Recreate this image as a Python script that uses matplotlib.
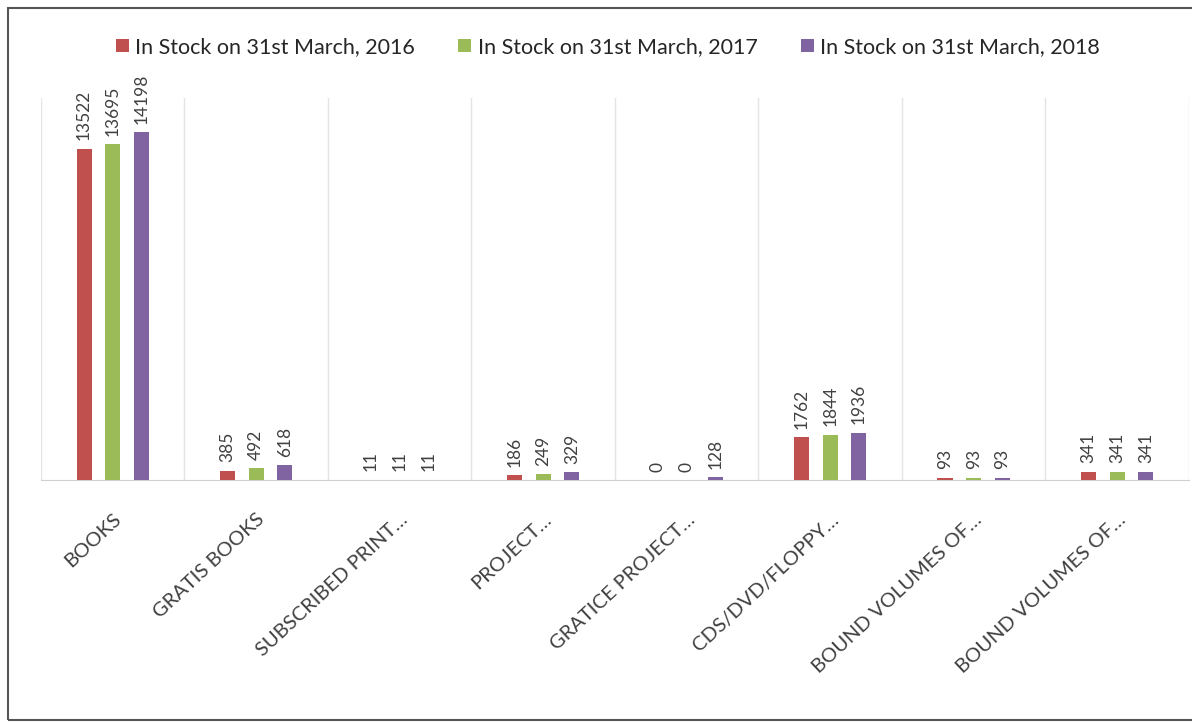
import numpy as np
import matplotlib
matplotlib.use("Agg")
import matplotlib.pyplot as plt
from matplotlib.patches import Rectangle

plt.rcParams["font.family"] = ["Lato", "DejaVu Sans"]

# Data
categories = [
    "BOOKS",
    "GRATIS BOOKS",
    "SUBSCRIBED PRINT…",
    "PROJECT…",
    "GRATICE PROJECT…",
    "CDS/DVD/FLOPPY…",
    "BOUND VOLUMES OF…",
    "BOUND VOLUMES OF…",
]
stock_2016 = [13522, 385, 11, 186, 0, 1762, 93, 341]
stock_2017 = [13695, 492, 11, 249, 0, 1844, 93, 341]
stock_2018 = [14198, 618, 11, 329, 128, 1936, 93, 341]

series_names = [
    "In Stock on 31st March, 2016",
    "In Stock on 31st March, 2017",
    "In Stock on 31st March, 2018",
]
colors = ["#C0504D", "#9BBB59", "#8064A2"]

fig = plt.figure(figsize=(11.92, 7.24), dpi=100)
ax = fig.add_axes([0.0344, 0.337, 0.963, 0.528])

x = np.arange(len(categories))
width = 0.105
offsets = [-0.2, 0.0, 0.2]

for vals, off, col, name in zip([stock_2016, stock_2017, stock_2018], offsets, colors, series_names):
    bars = ax.bar(x + off, vals, width, color=col, label=name, zorder=3)
    for b, v in zip(bars, vals):
        ax.annotate(
            str(v),
            (b.get_x() + b.get_width() / 2, b.get_height()),
            xytext=(0, 6),
            textcoords="offset points",
            rotation=90,
            ha="center",
            va="bottom",
            fontsize=12.5,
            color="#404040",
        )

ax.set_xlim(-0.5, len(categories) - 0.5)
ax.set_ylim(0, 15600)

# vertical separators between categories
for b in np.arange(-0.5, len(categories), 1.0):
    ax.axvline(b, color="#E4E4E4", lw=1, zorder=1)

ax.set_yticks([])
ax.set_xticks(x)
ax.set_xticklabels(
    categories,
    rotation=43,
    ha="right",
    va="top",
    rotation_mode="anchor",
    fontsize=14.5,
    color="#404040",
)
ax.tick_params(axis="x", length=0, pad=22)
for s in ["top", "right", "left"]:
    ax.spines[s].set_visible(False)
ax.spines["bottom"].set_color("#D0D0D0")

fig.legend(
    loc="center",
    bbox_to_anchor=(0.51, 0.935),
    ncol=3,
    frameon=False,
    fontsize=15.5,
    handlelength=0.6,
    handleheight=0.6,
    handletextpad=0.3,
    columnspacing=2.0,
    labelcolor="#262626",
)

# scanned page frame
fig.patches.append(
    Rectangle((0.007, 0.006), 1.0, 0.983, transform=fig.transFigure,
              fill=False, edgecolor="#555555", lw=1.5)
)

fig.savefig("out.png", dpi=100)
